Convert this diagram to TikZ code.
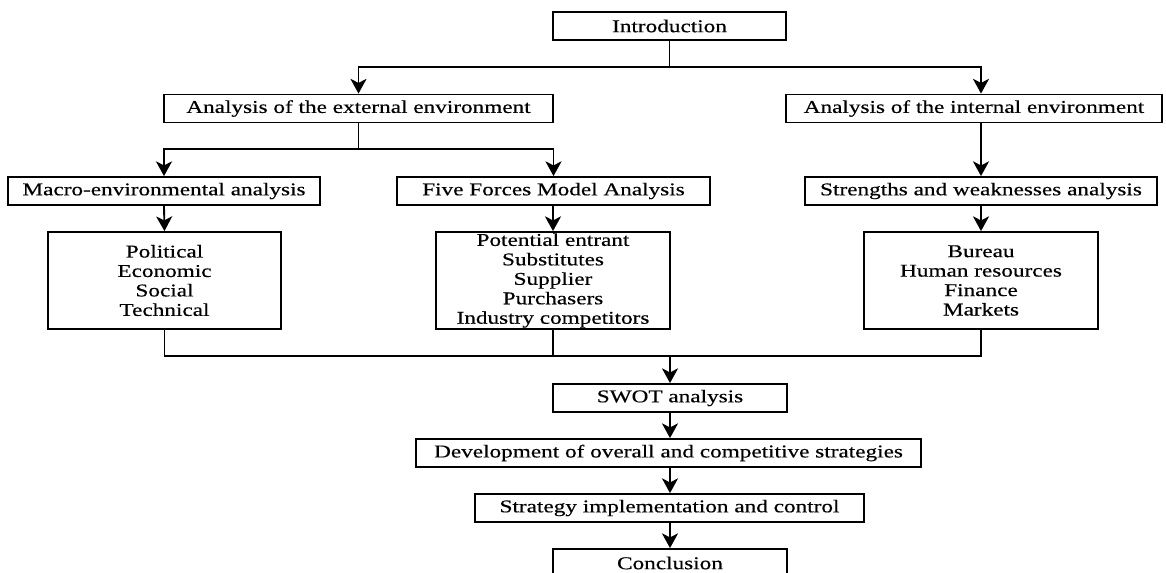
\documentclass[tikz,border=0pt]{standalone}
\usepackage{fontspec}
\setmainfont{Liberation Serif}[FakeStretch=1.29, FakeBold=0.4]
\usetikzlibrary{arrows.meta}
\tikzset{
  bx/.style={draw, line width=1.4pt, inner sep=0pt, align=center,
    minimum height=28*0.75pt, font=\fontsize{13.5pt}{14.6pt}\selectfont},
  wd/.style={minimum width=#1*0.75pt},
  ht/.style={minimum height=#1*0.75pt},
  ln/.style={line width=1.4pt},
  arr/.style={line width=1.4pt, -{Stealth[length=11pt,width=12pt,inset=3pt]}}
}
\begin{document}
\begin{tikzpicture}[x=0.75pt,y=-0.75pt]
\useasboundingbox (0,0) rectangle (1166,572);
\clip (0,0) rectangle (1166,572);
% top level
\node[bx, wd=233] (intro) at (669.5,26) {Introduction};
\node[bx, wd=389] (ext) at (358.5,108.5) {Analysis of the external environment};
\node[bx, wd=376] (int) at (974,108.5) {Analysis of the internal environment};
% second level
\node[bx, wd=312] (macro) at (164,191) {Macro-environmental analysis};
\node[bx, wd=313] (five) at (553.5,191) {Five Forces Model Analysis};
\node[bx, wd=352] (sw) at (981,191) {Strengths and weaknesses analysis};
% lists
\node[bx, wd=233, ht=97] (pest) at (164.5,280.5) {Political\\Economic\\Social\\Technical};
\node[bx, wd=234, ht=97] (forces) at (553,280.5) {Potential entrant\\Substitutes\\Supplier\\Purchasers\\Industry competitors};
\node[bx, wd=234, ht=97] (bureau) at (981,280.5) {Bureau\\Human resources\\Finance\\Markets};
% lower chain
\node[bx, wd=234] (swot) at (670,398) {SWOT analysis};
\node[bx, wd=505] (dev) at (668.5,453) {Development of overall and competitive strategies};
\node[bx, wd=389] (impl) at (669.5,508) {Strategy implementation and control};
\node[bx, wd=234] (concl) at (670,563) {Conclusion};
% junctions
\coordinate (j1) at (669.5,67);
\coordinate (j2) at (358.5,149);
\coordinate (j4) at (670,356);
% connectors
\draw[ln] (intro.south) -- (j1);
\draw[arr] (j1) -| (ext.north);
\draw[arr] (j1) -| (sw.north |- int.north);
\draw[ln] (ext.south) -- (j2);
\draw[arr] (j2) -| (macro.north);
\draw[arr] (j2) -| (five.north);
\draw[arr] (sw.north |- int.south) -- (sw.north);
\draw[arr] (macro.south) -- (pest.north);
\draw[arr] (five.south -| forces.north) -- (forces.north);
\draw[arr] (sw.south) -- (bureau.north);
\draw[ln] (pest.south) |- (bureau.south |- j4) -- (bureau.south);
\draw[ln] (forces.south) -- (forces.south |- j4);
\draw[arr] (j4) -- (swot.north);
\draw[arr] (swot.south) -- (dev.north -| swot.south);
\draw[arr] (dev.south -| swot.south) -- (impl.north -| swot.south);
\draw[arr] (impl.south -| swot.south) -- (concl.north);
\end{tikzpicture}
\end{document}
